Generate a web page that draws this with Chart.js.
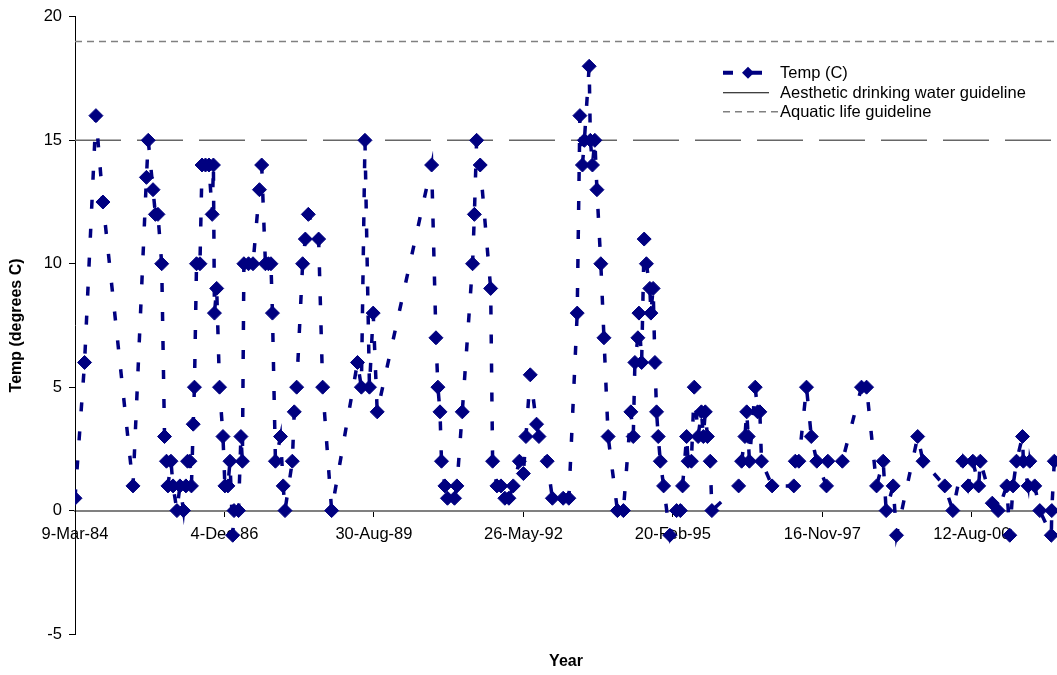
<!DOCTYPE html>
<html lang="en">
<head>
    <meta charset="UTF-8">
    <title>Temp (C)</title>
    <script src="https://cdn.jsdelivr.net/npm/chart.js"></script>
    <style>
        body { margin: 0; background: #fff; }
        #wrap { position: relative; width: 1057px; height: 675px; }
        #legend {
            position: absolute; left: 723px; top: 63px;
            font: 16.5px 'Liberation Sans', Arial, sans-serif; color: #000;
        }
        #legend .row { height: 19.5px; line-height: 19.5px; white-space: nowrap; }
        #legend svg { width: 57px; height: 19.5px; vertical-align: top; }
    </style>
</head>
<body>
<div id="wrap">
    <canvas id="tempChart"></canvas>
    <div id="legend">
        <div class="row"><svg><line x1="0" y1="9.75" x2="39" y2="9.75" stroke="#000080" stroke-width="4" stroke-dasharray="10 19"/><path d="M19 9.75 L25 3.75 L31 9.75 L25 15.75 Z" fill="#000080"/></svg>Temp (C)</div>
        <div class="row"><svg><line x1="0" y1="9.75" x2="46" y2="9.75" stroke="#000" stroke-width="1"/></svg>Aesthetic drinking water guideline</div>
        <div class="row"><svg><line x1="0" y1="9.75" x2="55" y2="9.75" stroke="#808080" stroke-width="1.5" stroke-dasharray="7 5"/></svg>Aquatic life guideline</div>
    </div>
</div>
<script>
    // sample dates as Excel day numbers (30750 = 9-Mar-84)
    const sampleDates = [
        30750, 30814, 30890, 30937, 31138, 31228, 31240, 31272, 31288, 31305,
        31330, 31349, 31362, 31372, 31392, 31406, 31432, 31452, 31476, 31492,
        31503, 31519, 31529, 31541, 31549, 31563, 31586, 31600, 31623, 31646,
        31668, 31676, 31683, 31698, 31717, 31740, 31753, 31773, 31787, 31805,
        31814, 31844, 31860, 31870, 31880, 31911, 31941, 31984, 31999, 32024,
        32044, 32061, 32071, 32091, 32125, 32143, 32155, 32204, 32217, 32233,
        32273, 32291, 32311, 32380, 32407, 32467, 32640, 32666, 32690, 32720,
        32745, 32772, 33136, 33165, 33178, 33192, 33202, 33225, 33242, 33289,
        33305, 33341, 33410, 33422, 33437, 33461, 33531, 33544, 33573, 33600,
        33626, 33653, 33682, 33723, 33750, 33767, 33796, 33838, 33854, 33909,
        33944, 34016, 34054, 34110, 34128, 34145, 34158, 34190, 34198, 34212,
        34228, 34242, 34268, 34289, 34317, 34379, 34419, 34469, 34485, 34496,
        34516, 34523, 34541, 34558, 34573, 34596, 34603, 34618, 34630, 34641,
        34652, 34666, 34688, 34730, 34775, 34800, 34815, 34842, 34852, 34874,
        34893, 34919, 34941, 34954, 34967, 34981, 35000, 35011, 35190, 35210,
        35232, 35244, 35254, 35262, 35301, 35317, 35332, 35343, 35414, 35559,
        35569, 35593, 35644, 35676, 35713, 35778, 35787, 35884, 36012, 36046,
        36113, 36157, 36177, 36224, 36246, 36388, 36424, 36569, 36623, 36690,
        36725, 36757, 36796, 36807, 36887, 36926, 36984, 37004, 37026, 37049,
        37089, 37095, 37127, 37138, 37171, 37205, 37282, 37285, 37302
    ];
    const tempC = [
        0.5, 6, 16, 12.5, 1, 13.5, 15, 13, 12, 12,
        10, 3, 2, 1, 2, 1, 0, 1, 0, 1,
        2, 2, 1, 3.5, 5, 10, 10, 14, 14, 14,
        12, 14, 8, 9, 5, 3, 1, 1, 2, -1,
        0, 0, 3, 2, 10, 10, 10, 13, 14, 10,
        10, 10, 8, 2, 3, 1, 0, 2, 4, 5,
        10, 11, 12, 11, 5, 0, 6, 5, 15, 5,
        8, 4, 14, 7, 5, 4, 2, 1, 0.5, 0.5,
        1, 4, 10, 12, 15, 14, 9, 2, 1, 1,
        0.5, 0.5, 1, 2, 1.5, 3, 5.5, 3.5, 3, 2,
        0.5, 0.5, 0.5, 8, 16, 14, 15, 18, 15, 14,
        15, 13, 10, 7, 3, 0, 0, 4, 3, 6,
        7, 8, 6, 11, 10, 9, 8, 9, 6, 4,
        3, 2, 1, -1, 0, 0, 1, 3, 2, 2,
        5, 3, 4, 3, 4, 3, 2, 0, 1, 2,
        3, 4, 3, 2, 5, 4, 4, 2, 1, 1,
        2, 2, 5, 3, 2, 1, 2, 2, 5, 5,
        1, 2, 0, 1, -1, 3, 2, 1, 0, 2,
        1, 2, 1, 2, 0.3, 0, 1, -1, 1, 2,
        3, 2, 1, 2, 1, 0, -1, 0, 2
    ];
    const aestheticGuideline = 15;
    const aquaticGuideline = 19;
    const xTicks = [30750, 31750, 32750, 33750, 34750, 35750, 36750];
    const yTicks = [-5, 0, 5, 10, 15, 20];
    const xMin = 30750, xMax = 37320;

    const MONTHS = ['Jan', 'Feb', 'Mar', 'Apr', 'May', 'Jun', 'Jul', 'Aug', 'Sep', 'Oct', 'Nov', 'Dec'];
    function excelDateLabel(serial) {
        const d = new Date(Date.UTC(1899, 11, 30) + serial * 86400000);
        return d.getUTCDate() + '-' + MONTHS[d.getUTCMonth()] + '-' + String(d.getUTCFullYear()).slice(-2);
    }

    const font = "'Liberation Sans', Arial, sans-serif";

    new Chart(document.getElementById('tempChart'), {
        type: 'line',
        data: {
            datasets: [{
                label: 'Temp (C)',
                data: sampleDates.map((d, i) => ({x: d, y: tempC[i]})),
                borderColor: '#000080',
                backgroundColor: '#000080',
                borderWidth: 3.5,
                borderDash: [9, 20],
                tension: 0,
                pointStyle: 'rectRot',
                pointRadius: 7,
                pointBorderWidth: 1,
                pointBorderColor: '#000080',
                pointBackgroundColor: '#000080'
            }, {
                label: 'Aesthetic drinking water guideline',
                data: [{x: xMin, y: aestheticGuideline}, {x: xMax, y: aestheticGuideline}],
                borderColor: '#666',
                borderWidth: 1.5,
                borderDash: [46, 16],
                pointRadius: 0
            }, {
                label: 'Aquatic life guideline',
                data: [{x: xMin, y: aquaticGuideline}, {x: xMax, y: aquaticGuideline}],
                borderColor: '#808080',
                borderWidth: 1.5,
                borderDash: [7, 5],
                pointRadius: 0
            }]
        },
        options: {
            responsive: true,
            maintainAspectRatio: false,
            animation: false,
            layout: {autoPadding: false, padding: {top: 14, right: 0, bottom: 0, left: 0}},
            plugins: {legend: {display: false}, tooltip: {enabled: false}},
            scales: {
                x: {
                    type: 'linear',
                    position: {y: 0},
                    min: xMin,
                    max: xMax,
                    afterBuildTicks: (scale) => { scale.ticks = xTicks.map(v => ({value: v})); },
                    grid: {drawOnChartArea: false, tickLength: 5, color: '#000'},
                    border: {color: '#808080', width: 2},
                    ticks: {
                        autoSkip: false, maxRotation: 0, padding: 9, color: '#000',
                        font: {family: font, size: 16.5},
                        callback: (v) => excelDateLabel(v)
                    }
                },
                x2: {
                    type: 'linear',
                    position: 'bottom',
                    grid: {display: false, drawTicks: false},
                    border: {display: false},
                    ticks: {display: false},
                    title: {
                        display: true, text: 'Year', color: '#000',
                        font: {family: font, size: 16, weight: 'bold'},
                        padding: {top: 18.4, bottom: 3.4}
                    }
                },
                y: {
                    min: -5,
                    max: 20,
                    afterFit: (scale) => { scale.width = 75; },
                    afterBuildTicks: (scale) => { scale.ticks = yTicks.map(v => ({value: v})); },
                    grid: {drawOnChartArea: false, tickLength: 6, color: '#000'},
                    border: {color: '#000', width: 1},
                    ticks: {padding: 7, color: '#000', font: {family: font, size: 16.5}},
                    title: {
                        display: true, text: 'Temp (degrees C)', color: '#000',
                        font: {family: font, size: 16, weight: 'bold'},
                        padding: {top: 7, bottom: 0}
                    }
                }
            }
        }
    });
</script>
</body>
</html>
